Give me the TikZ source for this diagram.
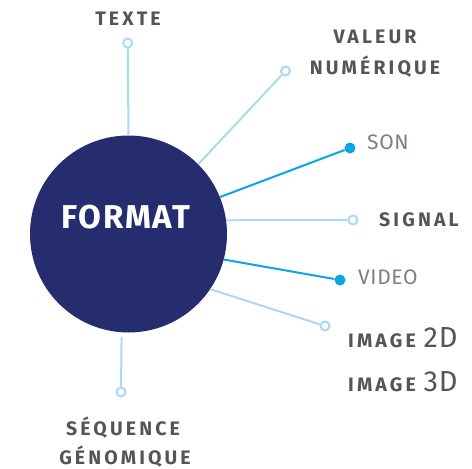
\documentclass[tikz,border=0pt]{standalone}
\usepackage{fontspec}
\setmainfont{Fira Sans}
\newfontfamily\labfont[LetterSpace=16]{Fira Sans}
\newfontfamily\titfont[LetterSpace=5]{Fira Sans}
\newfontfamily\softfont[LetterSpace=3]{Fira Sans}
\newcommand\bigdigits[1]{{\softfont\mdseries\fontsize{29}{31}\selectfont #1}}
\definecolor{navy}{HTML}{262D6E}
\definecolor{lightb}{HTML}{A9DAF3}
\definecolor{brightb}{HTML}{0AA5E6}
\definecolor{labgray}{HTML}{555555}
\definecolor{softgray}{HTML}{857A7C}
\tikzset{
  hub/.style={circle, fill=navy, minimum size=197pt, inner sep=0pt},
  openend/.style={circle, draw=lightb, line width=2pt, fill=white, minimum size=9pt, inner sep=0pt},
  fullend/.style={circle, fill=brightb, minimum size=11pt, inner sep=0pt},
  lightline/.style={draw=lightb, line width=2pt},
  brightline/.style={draw=brightb, line width=2pt},
  lab/.style={font=\labfont\bfseries\fontsize{19.5}{22}\selectfont, text=labgray, inner sep=0pt},
  softlab/.style={font=\softfont\fontsize{21}{23}\selectfont, text=softgray, inner sep=0pt},
}
\begin{document}
\begin{tikzpicture}[x=1pt,y=-1pt]
\useasboundingbox (0,0) rectangle (472,469);
\node[hub] (F) at (128.5,234) {};
\node[font=\titfont\bfseries\fontsize{33}{35}\selectfont, text=white] (ft) at (126,217) {FORMAT};
% ends
\node[openend] (eT) at (127.7,43) {};
\node[openend] (eV) at (285.5,71) {};
\node[fullend] (eS) at (350,148) {};
\node[openend] (eG) at (353,220) {};
\node[fullend] (eVi) at (340,280) {};
\node[openend] (eI) at (325,326) {};
\node[openend] (eQ) at (121,392) {};
% connectors
\draw[lightline] (F.90) -- (eT);
\draw[lightline] (F.45) -- (eV);
\draw[brightline] (F.22) -- (eS);
\draw[lightline] (F.8) -- (eG);
\draw[brightline] (F.-15) -- (eVi);
\draw[lightline] (F.-34) -- (eI);
\draw[lightline, shorten <=5pt] (F.-94) -- (eQ);
% labels
\node[lab] (tT) at (128,19) {TEXTE};
\node[lab] (tV1) at (375,37) {VALEUR};
\node[lab] (tV2) at (375,67) {NUMÉRIQUE};
\node[softlab, anchor=west] (tS) at (367,142) {SON};
\node[lab, anchor=west] (tG) at (379,220) {SIGNAL};
\node[softlab, anchor=west] (tVi) at (358,277) {VIDEO};
\node[lab, anchor=west] (tI2) at (348,338) {IMAGE \bigdigits{2D}};
\node[lab, anchor=west] (tI3) at (348,382) {IMAGE \bigdigits{3D}};
\node[lab] (tQ1) at (123,428) {SÉQUENCE};
\node[lab] (tQ2) at (125,457) {GÉNOMIQUE};
\end{tikzpicture}
\end{document}
